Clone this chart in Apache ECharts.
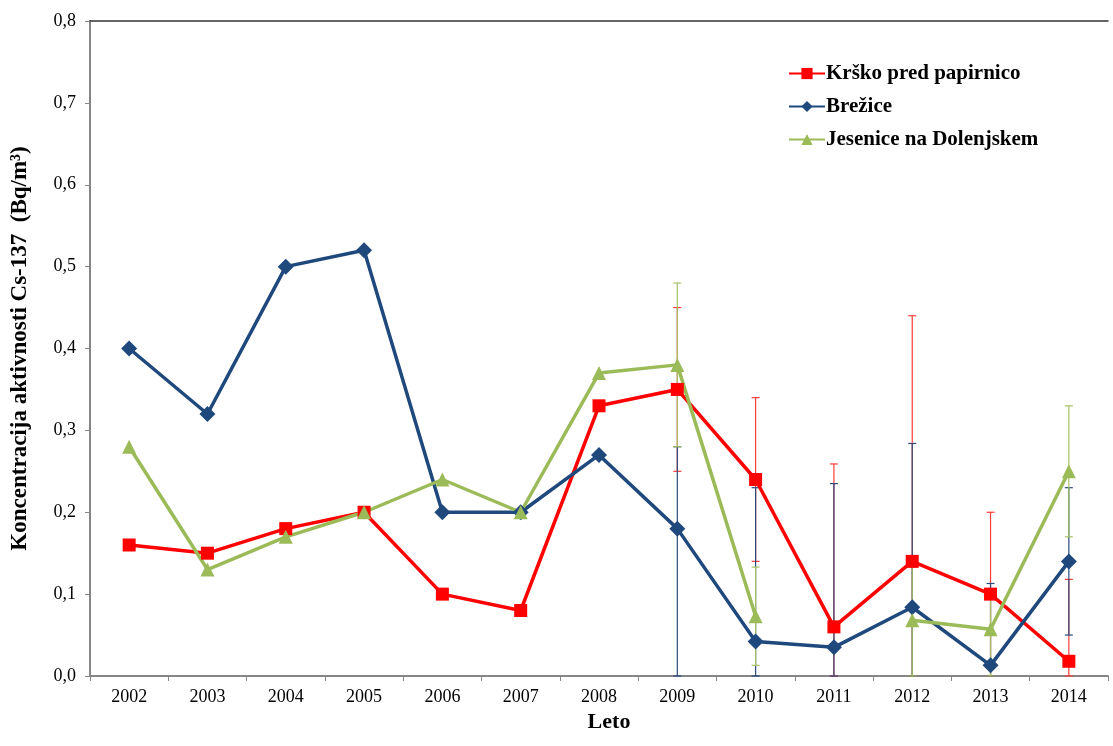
<!DOCTYPE html>
<html><head><meta charset="utf-8">
<script src="https://cdn.jsdelivr.net/npm/echarts@6/dist/echarts.min.js"></script>
<style>html,body{margin:0;padding:0;background:#fff}#c{width:1113px;height:746px}</style>
</head><body><div id="c"></div>
<script>
var categories = ['2002','2003','2004','2005','2006','2007','2008','2009','2010','2011','2012','2013','2014'];
var yTicks = [0,0.1,0.2,0.3,0.4,0.5,0.6,0.7,0.8];
var krsko    = [0.16,0.15,0.18,0.20,0.10,0.08,0.33,0.35,0.24,0.06,0.14,0.10,0.018];
var brezice  = [0.40,0.32,0.50,0.52,0.20,0.20,0.27,0.18,0.042,0.035,0.084,0.013,0.14];
var jesenice = [0.28,0.13,0.17,0.20,0.24,0.20,0.37,0.38,0.073,null,0.068,0.057,0.25];
// error bar ranges (low, high), null = none
var krskoLow     = [null,null,null,null,null,null,null,0.25,0.14,0,0,0,0];
var krskoHigh    = [null,null,null,null,null,null,null,0.45,0.34,0.259,0.44,0.20,0.118];
var brezLow      = [null,null,null,null,null,null,null,0,0,0,0,0,0.05];
var brezHigh     = [null,null,null,null,null,null,null,0.28,0.23,0.235,0.284,0.113,0.23];
var jesLow       = [null,null,null,null,null,null,null,0.28,0.013,null,0,0,0.17];
var jesHigh      = [null,null,null,null,null,null,null,0.48,0.133,null,0.14,0.10,0.33];

var RED='#FF0000', BLUE='#1F497D', GREEN='#9BBB59';
var FONT='"Liberation Serif", "Times New Roman", serif';

function errData(lo, hi){
  var d=[];
  for(var i=0;i<categories.length;i++){ if(lo[i]!==null && hi[i]!==null) d.push([i,lo[i],hi[i]]); }
  return d;
}
function errSeries(name, lo, hi, color){
  return {
    type:'custom', name:name+'_err', z:1, silent:true,
    data: errData(lo,hi),
    renderItem: function(params, api){
      var x=api.value(0), l=api.coord([x,api.value(1)]), h=api.coord([x,api.value(2)]);
      var w=4;
      return {type:'group', children:[
        {type:'line', shape:{x1:l[0],y1:l[1],x2:h[0],y2:h[1]}, style:{stroke:color,lineWidth:1.2}},
        {type:'line', shape:{x1:h[0]-w,y1:h[1],x2:h[0]+w,y2:h[1]}, style:{stroke:color,lineWidth:1.2}},
        {type:'line', shape:{x1:l[0]-w,y1:l[1],x2:l[0]+w,y2:l[1]}, style:{stroke:color,lineWidth:1.2}}
      ]};
    }
  };
}

var chart = echarts.init(document.getElementById('c'));
chart.setOption({
  animation:false,
  textStyle:{fontFamily:FONT},
  grid:{left:90,right:5,top:21,bottom:70,containLabel:false},
  legend:{
    orient:'vertical', left:783, top:58, itemGap:12, itemWidth:36, itemHeight:14,
    data:['Krško pred papirnico','Brežice','Jesenice na Dolenjskem'],
    textStyle:{fontFamily:FONT,fontSize:21,fontWeight:'bold',color:'#000',padding:[0,0,0,-4]}
  },
  xAxis:[{
    type:'category', data:categories, boundaryGap:true,
    name:'Leto', nameLocation:'middle', nameGap:30,
    nameTextStyle:{fontFamily:FONT,fontSize:22,fontWeight:'bold',color:'#000',padding:[0,0,0,20]},
    axisLine:{lineStyle:{color:'#868686',width:2}},
    axisTick:{show:true,length:5,lineStyle:{color:'#868686'}},
    axisLabel:{fontFamily:FONT,fontSize:18,color:'#000',margin:12},
    splitLine:{show:false}
  },{
    type:'category', data:categories, position:'top',
    axisLine:{lineStyle:{color:'#333',width:1.5}},
    axisTick:{show:false}, axisLabel:{show:false}, splitLine:{show:false}
  }],
  yAxis:{
    type:'value', min:0, max:0.8, interval:0.1,
    name:'Koncentracija aktivnosti Cs-137  (Bq/m³)', nameLocation:'middle', nameGap:58,
    nameTextStyle:{fontFamily:FONT,fontSize:23,fontWeight:'bold',color:'#000'},
    axisLine:{show:true,lineStyle:{color:'#868686',width:2}},
    axisTick:{show:true,length:5,lineStyle:{color:'#868686'}},
    axisLabel:{fontFamily:FONT,fontSize:18,color:'#000',margin:14,
      formatter:function(v){return v.toFixed(1).replace('.',',');}},
    splitLine:{show:false}
  },
  series:[
    errSeries('Krško pred papirnico', krskoLow, krskoHigh, '#FF3B3B'),
    errSeries('Brežice', brezLow, brezHigh, '#2A4B7C'),
    errSeries('Jesenice na Dolenjskem', jesLow, jesHigh, '#A5C266'),
    {name:'Krško pred papirnico',type:'line',data:krsko,z:3,symbol:'rect',symbolSize:13,
     lineStyle:{color:RED,width:3.5},itemStyle:{color:RED}},
    {name:'Brežice',type:'line',data:brezice,z:3,symbol:'diamond',symbolSize:16,
     lineStyle:{color:BLUE,width:3.5},itemStyle:{color:BLUE}},
    {name:'Jesenice na Dolenjskem',type:'line',data:jesenice,z:3,symbol:'triangle',symbolSize:14,connectNulls:false,
     lineStyle:{color:GREEN,width:3.5},itemStyle:{color:GREEN}}
  ]
});
</script></body></html>
